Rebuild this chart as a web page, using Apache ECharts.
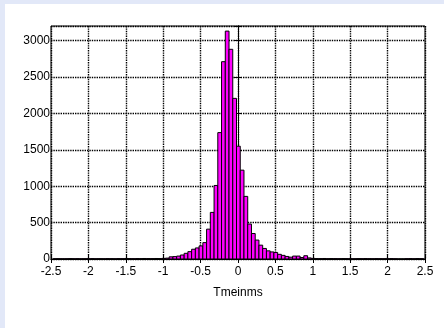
<!DOCTYPE html>
<html>
<head>
<meta charset="utf-8">
<script src="https://cdn.jsdelivr.net/npm/echarts@6/dist/echarts.min.js"></script>
<style>
html, body { margin: 0; padding: 0; background: #e2e8f8; }
#frame { position: absolute; left: 5px; top: 4px; right: 0; bottom: 0; background: #fff; }
#chart { position: absolute; left: 0; top: 0; width: 444px; height: 328px; }
</style>
</head>
<body>
<div id="frame"></div>
<div id="chart"></div>
<script>
// histogram bins: left edge of the first bin and the bin width
const binStart = -2.47;
const binWidth = 0.05;

// counts per bin
const counts = [
  3, 4, 2, 3, 5, 3, 4, 2, 3, 4,
  5, 3, 4, 3, 5, 4, 3, 5, 4, 6,
  5, 4, 6, 5, 7, 6, 5, 7, 6, 8,
  12, 30, 33, 40, 55, 78, 101, 134, 152, 180,
  225, 410, 640, 1010, 1736, 2710, 3130, 2880, 2206, 1550,
  1220, 860, 480, 350, 260, 190, 145, 112, 97, 90,
  64, 50, 35, 25, 40, 40, 20, 45, 15, 8,
  6, 5, 7, 4, 6, 5, 4, 6, 5, 4,
  3, 5, 4, 6, 4, 3, 5, 4, 3, 4,
  5, 3, 0, 0, 4, 5, 3, 6, 4
];

const xTicks = { min: -2.5, max: 2.5, interval: 0.5 };
const yTicks = { min: 0, max: 3200, interval: 500 };

const bins = counts.map((c, i) => {
  const left = +(binStart + i * binWidth).toFixed(3);
  return [left, +(left + binWidth).toFixed(3), c];
});

const font = { fontFamily: 'Liberation Sans, Arial, sans-serif', fontSize: 12, color: '#000' };
const blackLine = { lineStyle: { color: '#000', width: 1 } };
const dotted = { show: true, lineStyle: { color: '#000', width: 1.4, type: [1.4, 1] } };

const chart = echarts.init(document.getElementById('chart'), null, { renderer: 'canvas' });

chart.setOption({
  animation: false,
  backgroundColor: 'transparent',
  grid: { left: 51, right: 19, top: 26, bottom: 69, show: true, borderColor: '#000', borderWidth: 1 },
  xAxis: [
    {
      type: 'value', ...xTicks,
      position: 'bottom',
      name: 'Tmeinms',
      nameLocation: 'middle',
      nameGap: 28,
      nameTextStyle: font,
      axisLine: { show: true, ...blackLine },
      axisTick: { show: true, inside: true, length: 4, ...blackLine },
      axisLabel: { ...font, margin: 7 },
      splitLine: dotted,
    },
    {
      type: 'value', ...xTicks,
      position: 'top',
      axisLine: { show: true, ...blackLine },
      axisTick: { show: true, inside: true, length: 4, ...blackLine },
      axisLabel: { show: false },
      splitLine: { show: false },
    },
  ],
  yAxis: [
    {
      type: 'value', ...yTicks,
      position: 'left',
      axisLine: { show: true, ...blackLine },
      axisTick: { show: true, inside: true, length: 4, ...blackLine },
      axisLabel: { ...font, margin: 1, formatter: v => (v % 500 === 0 ? String(v) : '') },
      splitLine: dotted,
    },
    {
      type: 'value', ...yTicks,
      position: 'right',
      axisLine: { show: true, ...blackLine },
      axisTick: { show: true, inside: true, length: 4, ...blackLine },
      axisLabel: { show: false },
      splitLine: { show: false },
    },
  ],
  series: [
    {
      type: 'custom',
      xAxisIndex: 0,
      yAxisIndex: 0,
      data: bins,
      encode: { x: [0, 1], y: 2 },
      renderItem: (params, api) => {
        const p0 = api.coord([api.value(0), api.value(2)]);
        const p1 = api.coord([api.value(1), 0]);
        return {
          type: 'rect',
          shape: { x: p0[0], y: p0[1], width: p1[0] - p0[0], height: p1[1] - p0[1] },
          style: { fill: '#ff00ff', stroke: '#000', lineWidth: 1 },
        };
      },
    },
  ],
});
</script>
</body>
</html>
